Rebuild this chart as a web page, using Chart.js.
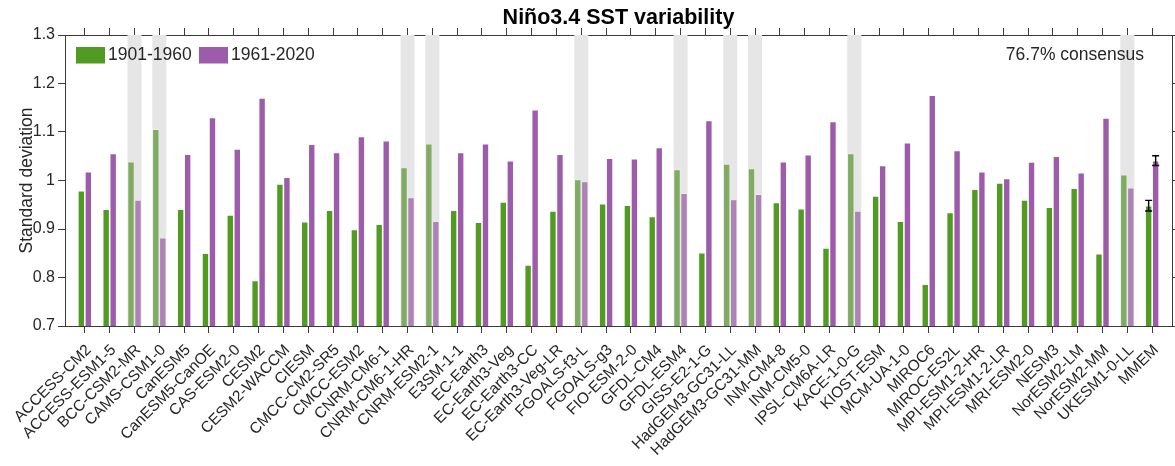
<!DOCTYPE html>
<html><head><meta charset="utf-8">
<script src="https://cdn.jsdelivr.net/npm/chart.js@4.4.1/dist/chart.umd.min.js"></script>
<style>html,body{margin:0;padding:0;background:#fff;overflow:hidden}canvas{display:block}</style>
</head><body>
<canvas id="c" width="1175" height="466"></canvas>
<script>
// ---------- data ----------
const models = ['ACCESS-CM2','ACCESS-ESM1-5','BCC-CSM2-MR','CAMS-CSM1-0','CanESM5','CanESM5-CanOE','CAS-ESM2-0','CESM2','CESM2-WACCM','CIESM','CMCC-CM2-SR5','CMCC-ESM2','CNRM-CM6-1','CNRM-CM6-1-HR','CNRM-ESM2-1','E3SM-1-1','EC-Earth3','EC-Earth3-Veg','EC-Earth3-CC','EC-Earth3-Veg-LR','FGOALS-f3-L','FGOALS-g3','FIO-ESM-2-0','GFDL-CM4','GFDL-ESM4','GISS-E2-1-G','HadGEM3-GC31-LL','HadGEM3-GC31-MM','INM-CM4-8','INM-CM5-0','IPSL-CM6A-LR','KACE-1-0-G','KIOST-ESM','MCM-UA-1-0','MIROC6','MIROC-ES2L','MPI-ESM1-2-HR','MPI-ESM1-2-LR','MRI-ESM2-0','NESM3','NorESM2-LM','NorESM2-MM','UKESM1-0-LL','MMEM'];
const sd1901_1960 = [0.979,0.941,1.039,1.106,0.941,0.850,0.929,0.794,0.993,0.915,0.939,0.899,0.910,1.027,1.076,0.939,0.914,0.956,0.826,0.937,1.002,0.952,0.949,0.926,1.023,0.851,1.034,1.025,0.955,0.942,0.861,1.056,0.968,0.916,0.786,0.934,0.982,0.995,0.960,0.945,0.984,0.849,1.012,0.948];
const sd1961_2020 = [1.018,1.056,0.960,0.882,1.054,1.130,1.065,1.170,1.007,1.075,1.058,1.091,1.082,0.965,0.916,1.058,1.076,1.041,1.146,1.054,0.998,1.046,1.045,1.068,0.974,1.124,0.961,0.972,1.039,1.053,1.122,0.937,1.031,1.078,1.176,1.062,1.018,1.004,1.038,1.050,1.016,1.129,0.985,1.041];
const mmemErr = [0.011, 0.010];          // error half-widths of the MMEM bars
const seriesNames = ['1901-1960','1961-2020'];
const yTicks = [0.7,0.8,0.9,1.0,1.1,1.2,1.3];
const titleText = 'Niño3.4 SST variability';
const yTitle = 'Standard deviation';
const consensusText = '76.7% consensus';

// ---------- derived ----------
const nModels = models.length - 1; // excluding MMEM
const disagree = models.map((m, i) => i < nModels && sd1901_1960[i] > sd1961_2020[i]);
const yMin = yTicks[0], yMax = yTicks[yTicks.length - 1];

const GREEN = '#529b23', PURPLE = '#9c5ca9';
const GREEN_F = '#80ab62', PURPLE_F = '#ad82b5';
const FONT = "'Liberation Sans', Arial, Helvetica, sans-serif";
const TXT = '#262626', AX = '#3a3a3a';

const pts = arr => arr.map((v, i) => ({x: i + 1, y: v}));
const shadePts = models.map((m, i) => disagree[i] ? {x: i + 1, y: yMax} : null).filter(Boolean);

const legendPlugin = {
  id: 'customLegend',
  afterDraw(chart) {
    const ctx = chart.ctx, a = chart.chartArea;
    ctx.save();
    ctx.font = `17.5px ${FONT}`;
    ctx.textBaseline = 'middle';
    const items = [{c: GREEN, t: seriesNames[0], x: a.left + 11}, {c: PURPLE, t: seriesNames[1], x: a.left + 134}];
    items.forEach(it => {
      ctx.fillStyle = it.c;
      ctx.fillRect(it.x, a.top + 12, 29, 16.5);
      ctx.fillStyle = TXT;
      ctx.textAlign = 'left';
      ctx.fillText(it.t, it.x + 32, a.top + 20.5);
    });
    ctx.textAlign = 'right';
    ctx.fillText(consensusText, a.right - 28, a.top + 20.5);
    ctx.restore();
  }
};

const errPlugin = {
  id: 'errBars',
  afterDatasetsDraw(chart) {
    const ctx = chart.ctx, ys = chart.scales.y, idx = models.length - 1;
    const vals = [sd1901_1960, sd1961_2020];
    ctx.save();
    ctx.strokeStyle = '#000';
    ctx.lineWidth = 1.4;
    [0, 1].forEach(d => {
      const el = chart.getDatasetMeta(d).data[idx];
      const v = vals[d][idx];
      const y1 = ys.getPixelForValue(v - mmemErr[d]);
      const y2 = ys.getPixelForValue(v + mmemErr[d]);
      ctx.beginPath();
      ctx.moveTo(el.x, y1); ctx.lineTo(el.x, y2);
      ctx.moveTo(el.x - 3.5, y1); ctx.lineTo(el.x + 3.5, y1);
      ctx.moveTo(el.x - 3.5, y2); ctx.lineTo(el.x + 3.5, y2);
      ctx.stroke();
    });
    ctx.restore();
  }
};

const noPad = s => { s.paddingLeft = 0; s.paddingRight = 0; s.paddingTop = 0; s.paddingBottom = 0; };

const xCommon = {
  type: 'linear', min: 0.2, max: models.length + 0.8, offset: false,
  afterBuildTicks: s => { s.ticks = models.map((m, i) => ({value: i + 1})); },
  grid: {drawOnChartArea: false, drawTicks: true, tickLength: 7, color: AX, lineWidth: 1, offset: false},
  border: {display: true, color: AX, width: 1},
  z: 1
};
const yCommon = {
  type: 'linear', min: yMin, max: yMax,
  afterBuildTicks: s => { s.ticks = yTicks.map(v => ({value: v})); },
  grid: {drawOnChartArea: false, drawTicks: true, tickLength: 7, color: AX, lineWidth: 1},
  border: {display: true, color: AX, width: 1},
  z: 1
};

new Chart(document.getElementById('c'), {
  type: 'bar',
  data: {
    datasets: [
      {label: seriesNames[0], data: pts(sd1901_1960), backgroundColor: models.map((m, i) => disagree[i] ? GREEN_F : GREEN),
       borderColor: 'rgba(255,255,255,0.3)', borderWidth: 0.8, order: 0},
      {label: seriesNames[1], data: pts(sd1961_2020), backgroundColor: models.map((m, i) => disagree[i] ? PURPLE_F : PURPLE),
       borderColor: 'rgba(255,255,255,0.3)', borderWidth: 0.8, order: 0},
      {label: 'disagree', data: shadePts, backgroundColor: '#e6e6e6', grouped: false, order: 5,
       categoryPercentage: 0.565, barPercentage: 1.0}
    ]
  },
  options: {
    responsive: false, animation: false, devicePixelRatio: 1, events: [],
    layout: {padding: 0},
    datasets: {bar: {categoryPercentage: 0.565, barPercentage: 1.0}},
    scales: {
      x: Object.assign({}, xCommon, {
        position: 'bottom',
        ticks: {autoSkip: false, minRotation: 45, maxRotation: 45, padding: 8, labelOffset: 4, color: TXT,
                font: {family: FONT, size: 15.5}, callback: (v, i) => models[i]},
        afterFit: s => { s.height = 140; noPad(s); }
      }),
      x2: Object.assign({}, xCommon, {
        position: 'top', ticks: {display: false},
        afterFit: s => { s.height = 35 - 21.5 * 1.2 - 5; noPad(s); }
      }),
      y: Object.assign({}, yCommon, {
        position: 'left',
        ticks: {padding: 3, color: TXT, font: {family: FONT, size: 16},
                callback: v => String(Math.round(v * 10) / 10)},
        title: {display: true, text: yTitle, color: TXT, font: {family: FONT, size: 17.5}, padding: {top: 17, bottom: 0}},
        afterFit: s => { s.width = 65; noPad(s); }
      }),
      y2: Object.assign({}, yCommon, {
        position: 'right', ticks: {display: false},
        afterFit: s => { s.width = 3; noPad(s); }
      })
    },
    plugins: {
      legend: {display: false},
      tooltip: {enabled: false},
      title: {display: true, fullSize: false, text: titleText, color: '#000', font: {family: FONT, size: 21.5, weight: 'bold'},
              padding: {top: 5, bottom: 0}}
    }
  },
  plugins: [legendPlugin, errPlugin]
});
</script>
</body></html>
